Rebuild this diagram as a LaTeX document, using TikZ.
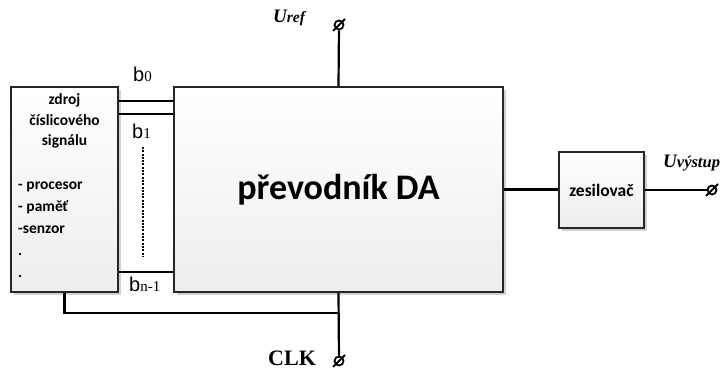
\documentclass[tikz,border=0pt]{standalone}
\usepackage{fontspec}
\setmainfont{Liberation Serif}
\newfontfamily\blokfont{Carlito}
\newfontfamily\bitfont{Liberation Sans}
\usepackage{tikz}
\usetikzlibrary{positioning,shadows}

% bit label: sans b, serif index
\newcommand{\bitlbl}[1]{{\bitfont\fontsize{20}{20}\selectfont b}{\fontsize{15}{15}\selectfont #1}}

\begin{document}
\begin{tikzpicture}[x=1pt,y=-1pt,
  blok/.style={draw=black!85, line width=2.1pt, top color=white, bottom color=black!7,
    drop shadow={shadow xshift=3pt, shadow yshift=-3pt, fill=black!18, opacity=1},
    inner sep=0pt, font=\blokfont\bfseries},
  vodic/.style={line width=2.2pt},
  svorka/.style={circle, draw, line width=1.8pt, fill=white, minimum size=9pt, inner sep=0pt}]
\useasboundingbox (0,0) rectangle (724,371);
%blocks
\node[blok, minimum width=107pt, minimum height=205pt] (zdroj) at (64.5,189.5) {};
\node[blok, minimum width=329pt, minimum height=205pt, font=\blokfont\bfseries\fontsize{36}{36}\selectfont] (prevodnik) at (338.5,189.5) {převodník DA};
\node[blok, minimum width=85pt, minimum height=76pt, font=\blokfont\bfseries\fontsize{17.5}{17.5}\selectfont] (zesil) at (601.5,190) {zesilovač};
%text of the source block (base = last line)
\node[anchor=base, align=center, inner sep=0pt, font=\blokfont\bfseries\fontsize{15.5}{20.5}\selectfont] (zdrojtxt) at (64.5,146) {zdroj\\číslicového\\signálu};
\node[anchor=base west, align=left, inner sep=0pt, font=\blokfont\bfseries\fontsize{15.5}{22.2}\selectfont] (seznam) at (18,278) {- procesor\\- paměť\\-senzor\\.\\.};
%data bits
\draw[vodic] (zdroj.east |- 0,101) -- (prevodnik.west |- 0,101);
\draw[vodic] (zdroj.east |- 0,114) -- (prevodnik.west |- 0,114);
\draw[vodic] (zdroj.east |- 0,272) -- (prevodnik.west |- 0,272);
\draw[line width=1.8pt, dash pattern=on 2pt off 1.3pt] (143,147) -- (143,257);
\node[anchor=base west, inner sep=0pt] (b0) at (133,82) {\bitlbl{0}};
\node[anchor=base west, inner sep=0pt] (b1) at (132,139) {\bitlbl{1}};
\node[anchor=base west, inner sep=0pt] (bn) at (129,292) {\bitlbl{n-1}};
%terminals
\node[svorka] (uref) at (339,25) {};
\node[svorka] (clk) at (339,361) {};
\node[svorka] (uvyst) at (712,190) {};
\foreach \t in {uref,clk,uvyst}
  \draw[line width=1.8pt] ([shift={(-6,6)}]\t.center) -- ([shift={(6,-6)}]\t.center);
\node[anchor=base west, inner sep=0pt, font=\bfseries\itshape] (ureftxt) at (273,23) {{\fontsize{19}{19}\selectfont U}{\fontsize{15.5}{15.5}\selectfont ref}};
\node[anchor=base west, inner sep=0pt, font=\bfseries\itshape] (uvysttxt) at (663,168) {{\fontsize{19}{19}\selectfont U}{\fontsize{16.5}{16.5}\selectfont výstup}};
\node[anchor=base west, inner sep=0pt, font=\bfseries\fontsize{22}{22}\selectfont] (clktxt) at (268,366) {CLK};
%wires
\draw[vodic] (prevodnik.north) -- (uref);
\draw[vodic] (prevodnik.south) -- (clk);
\coordinate (uzel) at (prevodnik.south |- 0,313);
\draw[vodic] (zdroj.south) |- (uzel);
\draw[vodic] (prevodnik.east) -- (prevodnik.east -| zesil.west);
\draw[vodic] (zesil.east) -- (uvyst);
\end{tikzpicture}
\end{document}
